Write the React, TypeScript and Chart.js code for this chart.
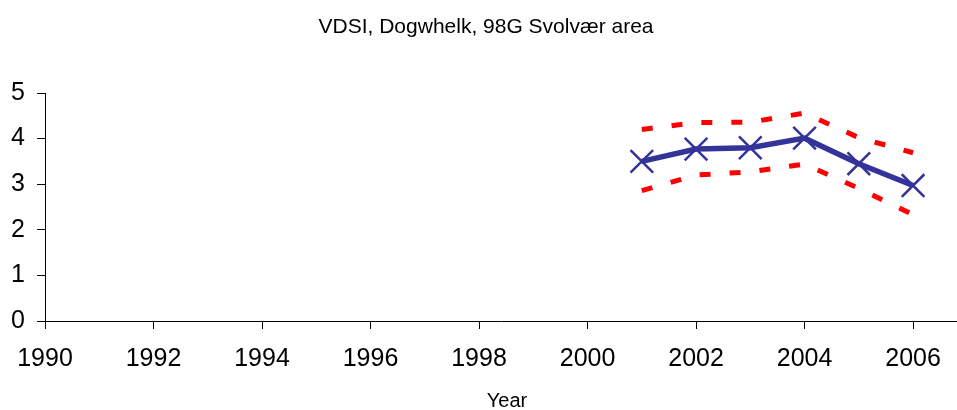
import React, { useEffect, useRef } from "react";
import { Chart, registerables } from "chart.js";

Chart.register(...registerables);

const title = "VDSI, Dogwhelk, 98G Svolvær area";
const xTitle = "Year";
const xTicks = [1990, 1992, 1994, 1996, 1998, 2000, 2002, 2004, 2006];
const years = [2001, 2002, 2003, 2004, 2005, 2006];
const vdsi = [3.5, 3.77, 3.8, 4.01, 3.45, 2.97];
const upper = [4.2, 4.35, 4.36, 4.56, 4.02, 3.69];
const lower = [2.86, 3.2, 3.27, 3.44, 2.91, 2.33];

const FONT = "'Liberation Sans', Arial, sans-serif";

const textPlugin = {
  id: "texts",
  afterDraw(chart: any) {
    const ctx = chart.ctx;
    ctx.save();
    ctx.fillStyle = "#000";
    ctx.textAlign = "center";
    ctx.textBaseline = "alphabetic";
    ctx.font = `21px ${FONT}`;
    ctx.fillText(title, 486, 33);
    ctx.font = `20px ${FONT}`;
    ctx.fillText(xTitle, 507, 407);
    ctx.restore();
  },
};

export default function App() {
  const ref = useRef<HTMLCanvasElement>(null);
  useEffect(() => {
    document.body.style.margin = "0";
    const toPts = (arr: number[]) => years.map((y, i) => ({ x: y, y: arr[i] }));
    const chart = new Chart(ref.current!, {
      type: "line",
      data: {
        datasets: [
          { data: toPts(upper), borderColor: "#FF0000", borderWidth: 5, borderDash: [11, 19], pointRadius: 0, fill: false },
          { data: toPts(lower), borderColor: "#FF0000", borderWidth: 5, borderDash: [11, 19], pointRadius: 0, fill: false },
          {
            data: toPts(vdsi),
            borderColor: "#333399",
            borderWidth: 5.5,
            pointStyle: "crossRot",
            pointRadius: 16,
            pointBorderWidth: 2.5,
            pointBorderColor: "#333399",
            fill: false,
          },
        ],
      },
      options: {
        animation: false,
        responsive: false,
        maintainAspectRatio: false,
        layout: { autoPadding: false, padding: { top: 93, left: 0, right: 0, bottom: 0 } },
        plugins: { legend: { display: false }, tooltip: { enabled: false }, title: { display: false } },
        scales: {
          x: {
            type: "linear",
            min: 1990,
            max: 2006.81,
            afterBuildTicks: (s: any) => {
              s.ticks = xTicks.map((v) => ({ value: v }));
            },
            afterFit: (s: any) => {
              s.height = 89;
              s.paddingLeft = 0;
              s.paddingRight = 0;
            },
            ticks: {
              autoSkip: false,
              maxRotation: 0,
              padding: 15,
              color: "#000",
              font: { family: FONT, size: 25 },
              callback: (v: any) => String(v),
            },
            grid: { drawOnChartArea: false, tickLength: 8, color: "#000" },
            border: { color: "#000", width: 1 },
          },
          y: {
            min: 0,
            max: 5,
            afterFit: (s: any) => {
              s.width = 45;
            },
            ticks: { stepSize: 1, padding: 12, color: "#000", font: { family: FONT, size: 25 } },
            grid: { drawOnChartArea: false, tickLength: 8, color: "#000" },
            border: { color: "#000", width: 1 },
          },
        },
      },
      plugins: [textPlugin],
    });
    return () => chart.destroy();
  }, []);
  return (
    <div style={{ width: 957, height: 410 }}>
      <canvas ref={ref} width={957} height={410} />
    </div>
  );
}
